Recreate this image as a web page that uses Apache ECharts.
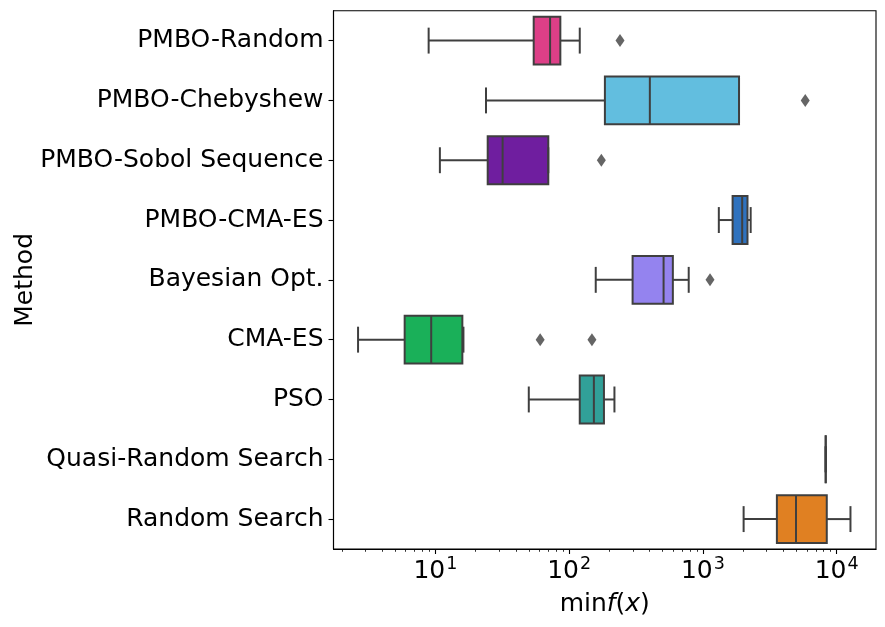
<!DOCTYPE html>
<html>
<head>
<meta charset="utf-8">
<script src="https://cdn.jsdelivr.net/npm/echarts@6/dist/echarts.min.js"></script>
<style>
html,body{margin:0;padding:0;background:#fff;}
#chart{width:885px;height:627px;}
</style>
</head>
<body>
<div id="chart"></div>
<script>
// ---- data ----
const methods = ["PMBO-Random","PMBO-Chebyshew","PMBO-Sobol Sequence","PMBO-CMA-ES","Bayesian Opt.","CMA-ES","PSO","Quasi-Random Search","Random Search"];
// [lower whisker, Q1, median, Q3, upper whisker]
const pmboRandom   = [8.9, 54.3, 72, 85.9, 120];
const pmboCheby    = [23.9, 185, 401, 1862, 1862];
const pmboSobol    = [10.8, 24.6, 31.8, 69.8, 69.8];
const pmboCmaes    = [1315, 1667, 1966, 2154, 2275];
const bayesOpt     = [158, 298, 508, 596, 783];
const cmaes        = [2.64, 5.89, 9.3, 15.9, 16.2];
const pso          = [49.9, 120, 153, 182, 218];
const quasiRandom  = [8280, 8280, 8280, 8280, 8280];
const randomSearch = [2015, 3573, 4966, 8433, 12680];
const boxStats = [pmboRandom, pmboCheby, pmboSobol, pmboCmaes, bayesOpt, cmaes, pso, quasiRandom, randomSearch];
// outliers: [value, method]
const outliers = [[240,"PMBO-Random"],[5820,"PMBO-Chebyshew"],[174,"PMBO-Sobol Sequence"],[1130,"Bayesian Opt."],[60.7,"CMA-ES"],[148,"CMA-ES"]];
const colors = ["#dd3f87","#62bedf","#6f1e9f","#2f72be","#9483ef","#1ab059","#31a098","#8c8c8c","#e08022"];
const majorTicks = [10, 100, 1000, 10000];
const minorTicks = [2,3,4,5,6,7,8,9,20,30,40,50,60,70,80,90,200,300,400,500,600,700,800,900,2000,3000,4000,5000,6000,7000,8000,9000];
const xMin = 1.73, xMax = 19680;

const FONT = "DejaVu Sans";
const EDGE = "#3f3f3f";

const boxData = boxStats.map((s, i) => [i].concat(s));

const chart = echarts.init(document.getElementById('chart'), null, {renderer:'canvas'});
chart.setOption({
  animation:false,
  backgroundColor:'#fff',
  grid:{left:333.5, right:9, top:10.7, bottom:78, show:true, borderColor:'#000', borderWidth:1.1, containLabel:false, outerBoundsMode:'none'},
  xAxis:[{
    type:'log', min:xMin, max:xMax, logBase:10,
    name:'{r|min}{i|f}{r|(}{i|x}{r|)}', nameLocation:'middle', nameGap:43, nameMoveOverlap:false,
    nameTextStyle:{fontFamily:FONT, fontSize:25, color:'#000',
      rich:{r:{fontFamily:FONT, fontSize:25, color:'#000'}, i:{fontFamily:FONT, fontSize:25, fontStyle:'italic', color:'#000'}}},
    axisLine:{show:true, lineStyle:{color:'#000', width:1.1}},
    axisTick:{show:true, length:5, lineStyle:{color:'#000', width:1.1}, customValues:majorTicks},
    axisLabel:{show:true, margin:6, customValues:majorTicks, color:'#000', fontFamily:FONT, fontSize:25,
      formatter:function(v){ const k = Math.round(Math.log10(v)); return '{a|10}{b|' + k + '}'; },
      rich:{a:{fontFamily:FONT, fontSize:25, color:'#000'}, b:{fontFamily:FONT, fontSize:17.5, color:'#000', padding:[0,0,14,1]}}},
    splitLine:{show:false}
  },{
    type:'log', min:xMin, max:xMax, logBase:10, position:'bottom', gridIndex:0,
    axisLine:{show:false},
    axisTick:{show:true, length:2.8, lineStyle:{color:'#000', width:0.8}, customValues:minorTicks},
    axisLabel:{show:false},
    splitLine:{show:false}
  }],
  yAxis:{
    type:'category', data:methods, inverse:true,
    name:'Method', nameLocation:'middle', nameRotate:90, nameGap:296, nameMoveOverlap:false,
    nameTextStyle:{fontFamily:FONT, fontSize:25, color:'#000'},
    axisLine:{show:true, lineStyle:{color:'#000', width:1.1}},
    axisTick:{show:true, alignWithLabel:true, length:5, lineStyle:{color:'#000', width:1.1}},
    axisLabel:{margin:10, color:'#000', fontFamily:FONT, fontSize:25},
    splitLine:{show:false}
  },
  series:[{
    type:'custom',
    xAxisIndex:0,
    data:boxData,
    encode:{x:[1,2,3,4,5], y:0},
    renderItem:function(params, api){
      const ci = api.value(0);
      const p = [1,2,3,4,5].map(d => api.coord([api.value(d), ci]));
      const cy = p[0][1];
      const band = api.size([0,1],[10,ci])[1];
      const h = band*0.4, ch = band*0.2;
      const ls = {stroke:EDGE, lineWidth:2};
      return {type:'group', children:[
        {type:'line', shape:{x1:p[0][0], y1:cy, x2:p[1][0], y2:cy}, style:ls},
        {type:'line', shape:{x1:p[3][0], y1:cy, x2:p[4][0], y2:cy}, style:ls},
        {type:'rect', shape:{x:p[1][0], y:cy-h, width:p[3][0]-p[1][0], height:2*h}, style:{fill:colors[ci], stroke:EDGE, lineWidth:2}},
        {type:'line', shape:{x1:p[2][0], y1:cy-h, x2:p[2][0], y2:cy+h}, style:ls},
        {type:'line', shape:{x1:p[0][0], y1:cy-ch, x2:p[0][0], y2:cy+ch}, style:Object.assign({lineCap:'square'}, ls)},
        {type:'line', shape:{x1:p[4][0], y1:cy-ch, x2:p[4][0], y2:cy+ch}, style:Object.assign({lineCap:'square'}, ls)}
      ]};
    }
  },{
    type:'scatter',
    xAxisIndex:0,
    data:outliers,
    symbol:'diamond', symbolSize:[9,13],
    itemStyle:{color:EDGE}
  }]
});
</script>
</body>
</html>
